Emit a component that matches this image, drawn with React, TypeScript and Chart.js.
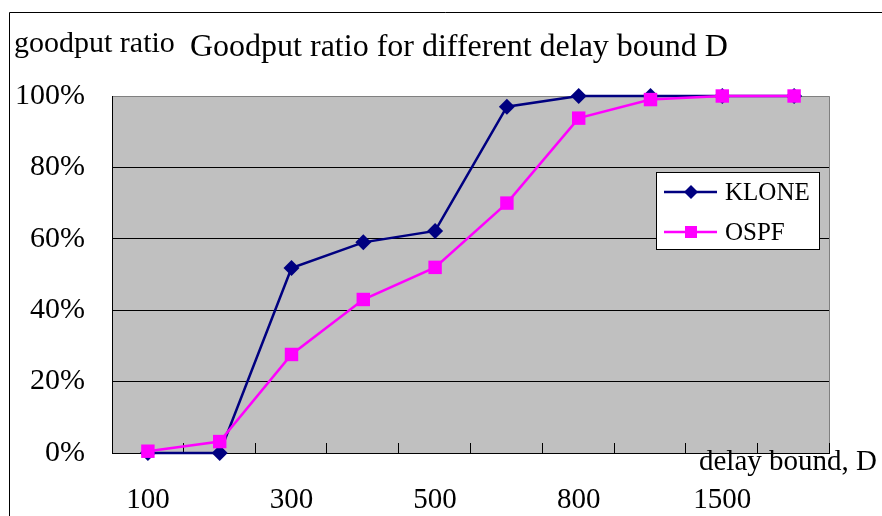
import React, { useEffect, useRef } from "react";
import { Chart, registerables } from "chart.js";

Chart.register(...registerables);

const categories = ["100", "200", "300", "400", "500", "600", "800", "1000", "1500", "2000"];
const kloneValues = [0, 0, 51.8, 59, 62.2, 97, 100, 100, 100, 100];
const ospfValues = [0.5, 3.2, 27.6, 43, 52, 70, 93.8, 99, 100, 100];
const yTicks = [0, 20, 40, 60, 80, 100];

const SERIF = "'Liberation Serif', 'Times New Roman', serif";
const NAVY = "#000080";
const MAGENTA = "#FF00FF";

const decorPlugin = {
  id: "decor",
  beforeDraw(chart: any) {
    const { ctx, chartArea: a } = chart;
    ctx.save();
    ctx.fillStyle = "#C0C0C0";
    ctx.fillRect(a.left, a.top, a.right - a.left, a.bottom - a.top);
    ctx.restore();
  },
  beforeDatasetsDraw(chart: any) {
    const { ctx, chartArea: a } = chart;
    ctx.save();
    ctx.lineWidth = 1;
    ctx.strokeStyle = "#808080";
    ctx.beginPath();
    ctx.moveTo(Math.round(a.left) + 0.5, Math.round(a.top) + 0.5);
    ctx.lineTo(Math.round(a.right) - 0.5, Math.round(a.top) + 0.5);
    ctx.lineTo(Math.round(a.right) - 0.5, Math.round(a.bottom) + 0.5);
    ctx.stroke();
    ctx.strokeStyle = "#000000";
    ctx.beginPath();
    ctx.moveTo(Math.round(a.left) + 0.5, Math.round(a.top));
    ctx.lineTo(Math.round(a.left) + 0.5, Math.round(a.bottom) + 0.5);
    ctx.lineTo(Math.round(a.right), Math.round(a.bottom) + 0.5);
    ctx.stroke();
    const n = categories.length;
    const step = (a.right - a.left) / n;
    ctx.beginPath();
    for (let i = 1; i <= n; i++) {
      const x = Math.round(a.left + i * step) - 0.5;
      ctx.moveTo(x, Math.round(a.bottom));
      ctx.lineTo(x, Math.round(a.bottom) - 10);
    }
    ctx.stroke();
    ctx.restore();
  },
  afterDraw(chart: any) {
    const { ctx } = chart;
    ctx.save();
    ctx.strokeStyle = "#000";
    ctx.lineWidth = 1;
    ctx.beginPath();
    ctx.moveTo(9.5, 516);
    ctx.lineTo(9.5, 12.5);
    ctx.lineTo(882, 12.5);
    ctx.stroke();

    ctx.fillStyle = "#000";
    ctx.textBaseline = "alphabetic";
    ctx.textAlign = "left";
    ctx.font = `30px ${SERIF}`;
    ctx.fillText("goodput ratio", 14, 52);
    ctx.font = `32px ${SERIF}`;
    ctx.fillText("Goodput ratio for different delay bound D", 190, 56);
    ctx.font = `29px ${SERIF}`;
    ctx.fillText("delay bound, D", 699, 470);

    const lx = 656.5, ly = 172.5, lw = 163, lh = 77;
    ctx.fillStyle = "#FFFFFF";
    ctx.fillRect(lx, ly, lw, lh);
    ctx.strokeStyle = "#000";
    ctx.strokeRect(lx, ly, lw, lh);

    const items = [
      { label: "KLONE", color: NAVY, y: 192, style: "diamond" },
      { label: "OSPF", color: MAGENTA, y: 232, style: "square" },
    ];
    for (const it of items) {
      ctx.strokeStyle = it.color;
      ctx.lineWidth = 2.5;
      ctx.beginPath();
      ctx.moveTo(664, it.y);
      ctx.lineTo(717, it.y);
      ctx.stroke();
      ctx.fillStyle = it.color;
      ctx.beginPath();
      if (it.style === "diamond") {
        const r = 7;
        ctx.moveTo(691, it.y - r);
        ctx.lineTo(691 + r, it.y);
        ctx.lineTo(691, it.y + r);
        ctx.lineTo(691 - r, it.y);
        ctx.closePath();
      } else {
        ctx.rect(685, it.y - 6, 12, 12);
      }
      ctx.fill();
      ctx.fillStyle = "#000";
      ctx.font = `25px ${SERIF}`;
      ctx.textBaseline = "middle";
      ctx.fillText(it.label, 725, it.y + 1);
    }
    ctx.restore();
  },
};

export default function App() {
  const canvasRef = useRef<HTMLCanvasElement | null>(null);

  useEffect(() => {
    if (!canvasRef.current) return;
    const chart = new Chart(canvasRef.current, {
      type: "line",
      data: {
        labels: categories,
        datasets: [
          {
            label: "KLONE",
            data: kloneValues,
            borderColor: NAVY,
            backgroundColor: NAVY,
            borderWidth: 2.5,
            pointStyle: "rectRot",
            pointRadius: 8,
            pointHoverRadius: 8,
            pointBorderWidth: 0,
            tension: 0,
            clip: false as any,
            order: 1,
          },
          {
            label: "OSPF",
            data: ospfValues,
            borderColor: MAGENTA,
            backgroundColor: MAGENTA,
            borderWidth: 2.5,
            pointStyle: "rect",
            pointRadius: 9.5,
            pointHoverRadius: 9.5,
            pointBorderWidth: 0,
            tension: 0,
            clip: false as any,
            order: 0,
          },
        ],
      },
      options: {
        responsive: false,
        animation: false,
        events: [],
        layout: { padding: { left: 0, top: 96, right: 52, bottom: 0 } },
        plugins: {
          legend: { display: false },
          title: { display: false },
          tooltip: { enabled: false },
        },
        scales: {
          x: {
            type: "category",
            offset: true,
            grid: { display: false },
            border: { display: false },
            ticks: {
              autoSkip: false,
              maxRotation: 0,
              color: "#000",
              font: { family: SERIF, size: 29 },
              padding: 22,
              callback: (_v: any, idx: number) => (idx % 2 === 0 ? categories[idx] : ""),
            },
            afterFit: (scale: any) => {
              scale.height = 63;
            },
          },
          y: {
            min: 0,
            max: 100,
            afterBuildTicks: (scale: any) => {
              scale.ticks = yTicks.map((v) => ({ value: v }));
            },
            grid: {
              color: (c: any) => (c.tick && c.tick.value === 100 ? "rgba(0,0,0,0)" : "#000"),
              lineWidth: 1,
              drawTicks: false,
            },
            border: { display: false },
            ticks: {
              color: "#000",
              font: { family: SERIF, size: 30 },
              padding: 27,
              callback: (v: any) => `${v}%`,
            },
            afterFit: (scale: any) => {
              scale.width = 112;
            },
          },
        },
      },
      plugins: [decorPlugin],
    });
    return () => chart.destroy();
  }, []);

  return (
    <div style={{ position: "fixed", left: 0, top: 0, width: 882, height: 516, background: "#fff" }}>
      <canvas ref={canvasRef} width={882} height={516} style={{ display: "block" }} />
    </div>
  );
}
